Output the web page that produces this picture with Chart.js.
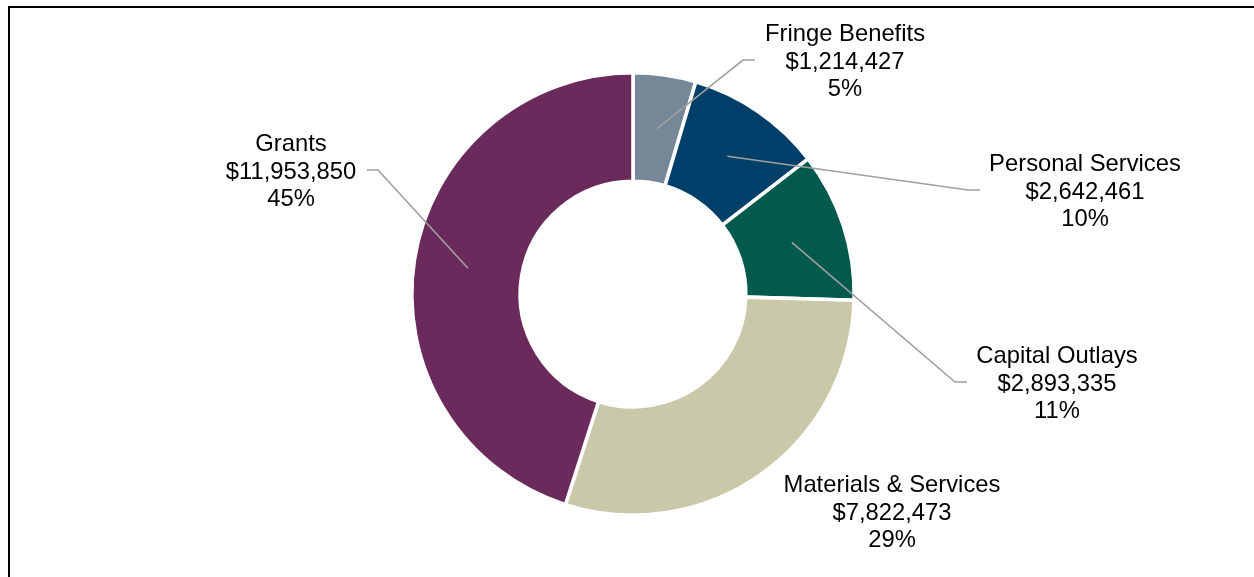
<!DOCTYPE html>
<html>
<head>
<meta charset="utf-8">
<script src="https://cdn.jsdelivr.net/npm/chart.js@4.4.1/dist/chart.umd.min.js"></script>
<style>
  html, body { margin: 0; padding: 0; background: #fff; }
  #wrap { position: relative; width: 1254px; height: 577px; overflow: hidden; }
  #frame { position: absolute; left: 8px; top: 6px; width: 1300px; height: 600px;
           border-left: 2px solid #000; border-top: 2px solid #000; box-sizing: border-box; }
  canvas { position: absolute; left: 0; top: 0; }
</style>
</head>
<body>
<div id="wrap">
  <div id="frame"></div>
  <canvas id="c" width="1254" height="577"></canvas>
</div>
<script>
const categories = ["Fringe Benefits", "Personal Services", "Capital Outlays", "Materials & Services", "Grants"];
const amounts = [1214427, 2642461, 2893335, 7822473, 11953850];
const amountLabels = ["$1,214,427", "$2,642,461", "$2,893,335", "$7,822,473", "$11,953,850"];
const percentLabels = ["5%", "10%", "11%", "29%", "45%"];
const colors = ["#768898", "#003f69", "#025a4c", "#c9c8a8", "#6a2a5b"];

// label placement (offsets from donut centre, px) and leader elbows
const labelLayout = [
  { tx: 212, ty: -234, elbow: [110, -234], end: [122, -234] },
  { tx: 452, ty: -104, elbow: [335, -104], end: [347, -104] },
  { tx: 424, ty: 88,   elbow: [322, 88],   end: [334, 88] },
  { tx: 259, ty: 217,  elbow: null,        end: null },
  { tx: -342, ty: -124, elbow: [-255, -124], end: [-266, -124] }
];

const labelPlugin = {
  id: 'donutLabels',
  afterDatasetsDraw(chart) {
    const ctx = chart.ctx;
    const meta = chart.getDatasetMeta(0);
    ctx.save();
    meta.data.forEach((arc, i) => {
      const p = arc.getProps(['x', 'y', 'startAngle', 'endAngle', 'innerRadius', 'outerRadius'], true);
      const cx = p.x, cy = p.y;
      const mid = (p.startAngle + p.endAngle) / 2;
      const r = (p.innerRadius + p.outerRadius) / 2;
      const ax = cx + Math.cos(mid) * r, ay = cy + Math.sin(mid) * r;
      const L = labelLayout[i];
      if (L.elbow) {
        ctx.beginPath();
        ctx.strokeStyle = '#a0a0a0';
        ctx.lineWidth = 1.6;
        ctx.moveTo(ax, ay);
        ctx.lineTo(cx + L.elbow[0], cy + L.elbow[1]);
        ctx.lineTo(cx + L.end[0], cy + L.end[1]);
        ctx.stroke();
      }
      ctx.fillStyle = '#000';
      ctx.font = '23.8px "Liberation Sans", Arial, sans-serif';
      ctx.textAlign = 'center';
      ctx.textBaseline = 'alphabetic';
      const tx = cx + L.tx, ty = cy + L.ty;
      const lines = [categories[i], amountLabels[i], percentLabels[i]];
      lines.forEach((t, k) => {
        ctx.fillText(t, tx, ty + 8.5 + (k - 1) * 27.5);
      });
    });
    ctx.restore();
  }
};

new Chart(document.getElementById('c'), {
  type: 'doughnut',
  data: {
    labels: categories,
    datasets: [{
      data: amounts,
      backgroundColor: colors,
      borderColor: '#ffffff',
      borderWidth: 3.6
    }]
  },
  options: {
    responsive: false,
    animation: false,
    cutout: '51%',
    layout: { padding: { top: 71, bottom: 60, left: 12, right: 0 } },
    plugins: { legend: { display: false }, tooltip: { enabled: false } }
  },
  plugins: [labelPlugin]
});
</script>
</body>
</html>
